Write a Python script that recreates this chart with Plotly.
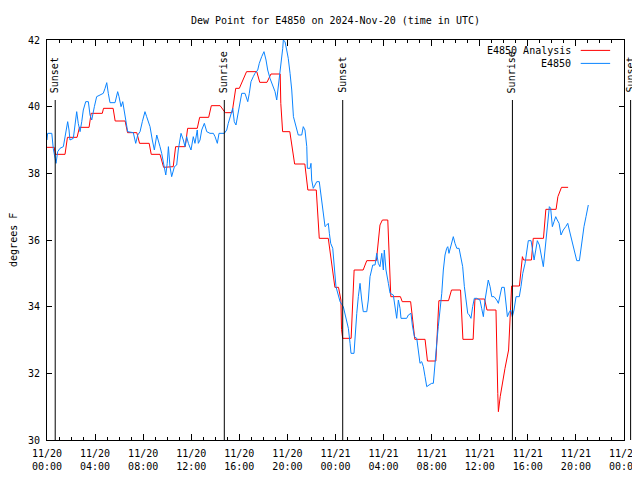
import pandas as pd
import plotly.graph_objects as go

start = pd.Timestamp("2024-11-20 00:00")
end = pd.Timestamp("2024-11-22 00:00")

# Analysis series (hours since 2024-11-20 00:00 UTC, deg F)
red_hours = [0, 0.6, 0.7, 1.5, 1.7, 2.5, 2.7, 3.5, 3.67, 4.6, 4.7, 5.5, 5.67, 6.5, 6.7, 7.47, 7.7, 8.5,
             8.67, 9.4, 9.7, 10.5, 10.7, 11.5, 11.7, 12.5, 12.7, 13.45, 13.67, 14.4, 14.83, 15.4, 15.7,
             16.0, 16.6, 17.45, 17.7, 18.3, 18.63, 19.4, 19.45, 19.6, 20.2, 20.6, 21.45, 21.7, 22.4,
             22.65, 23.4, 23.95, 24.25, 24.45, 24.5, 24.6, 25.3, 25.55, 26.3, 26.6, 27.4, 27.7, 27.9,
             28.35, 28.6, 29.4, 29.55, 30.25, 30.6, 31.45, 31.65, 32.35, 32.6, 33.4, 33.65, 34.4, 34.6,
             35.45, 35.6, 36.4, 36.6, 37.35, 37.5, 37.55, 37.7, 37.9, 38.1, 38.4, 38.5, 38.6, 38.65,
             39.3, 39.55, 39.65, 40.3, 40.45, 41.3, 41.5, 42.35, 42.5, 42.8, 43.35]
red_vals = [38.78, 38.78, 38.57, 38.57, 39.08, 39.08, 39.38, 39.38, 39.8, 39.8, 39.95, 39.95, 39.57,
            39.57, 39.22, 39.22, 38.9, 38.9, 38.57, 38.57, 38.18, 38.2, 38.8, 38.8, 39.35, 39.35, 39.68,
            39.68, 40.03, 40.03, 39.82, 39.82, 40.55, 40.55, 41.05, 41.05, 40.73, 40.73, 40.98, 40.98,
            40.1, 39.25, 39.25, 38.28, 38.28, 37.5, 37.5, 36.05, 36.05, 34.58, 34.58, 34.2, 33.32,
            33.05, 33.05, 35.1, 35.1, 35.38, 35.38, 36.45, 36.6, 36.6, 34.3, 34.3, 34.15, 34.15,
            33.02, 33.02, 32.37, 32.37, 34.18, 34.18, 34.5, 34.5, 33.02, 33.02, 34.23, 34.23, 33.9,
            33.9, 31.4, 30.85, 31.3, 31.75, 32.15, 32.7, 33.55, 34.3, 34.62, 34.62, 35.5, 35.4, 35.4,
            36.05, 36.05, 36.92, 36.92, 37.3, 37.58, 37.58]

# Station series
blue_hours = [0, 0.05, 0.4, 0.52, 0.67, 0.75, 0.89, 1.08, 1.36, 1.5, 1.72, 1.83, 1.91, 2.19, 2.33, 2.47,
              2.6, 2.75, 2.89, 3.02, 3.22, 3.44, 3.58, 3.72, 3.94, 4.13, 4.41, 4.68, 4.83, 4.97, 5.1,
              5.24, 5.66, 5.88, 5.99, 6.16, 6.3, 6.43, 6.63, 6.71, 7.18, 7.38, 7.55, 7.74, 7.93, 8.15,
              8.29, 8.57, 8.76, 8.93, 9.13, 9.26, 9.4, 9.54, 9.68, 9.88, 10.0, 10.1, 10.23, 10.37, 10.6,
              10.79, 10.92, 11.15, 11.34, 11.48, 11.62, 11.76, 11.98, 12.17, 12.31, 12.5, 12.59, 12.73,
              12.87, 13.09, 13.29, 13.56, 13.84, 13.98, 14.17, 14.31, 14.75, 14.95, 15.08, 15.31, 15.45,
              15.58, 15.72, 15.87, 16.06, 16.2, 16.47, 16.7, 16.83, 16.97, 17.16, 17.3, 17.53, 17.66,
              17.86, 18.05, 18.22, 18.36, 18.55, 18.83, 18.97, 19.11, 19.24, 19.38, 19.53, 19.61, 19.66,
              19.8, 19.94, 20.07, 20.22, 20.36, 20.5, 20.63, 20.9, 21.19, 21.32, 21.46, 21.61, 21.66,
              21.88, 21.96, 22.02, 22.15, 22.3, 22.44, 22.65, 22.77, 22.94, 23.13, 23.27, 23.4, 23.49,
              23.6, 23.77, 23.9, 24.04, 24.23, 24.38, 24.65, 24.79, 24.93, 25.07, 25.21, 25.29, 25.54,
              25.62, 25.77, 25.9, 26.04, 26.18, 26.31, 26.6, 26.73, 26.87, 27.1, 27.29, 27.43, 27.56,
              27.7, 27.85, 27.98, 28.06, 28.2, 28.4, 28.54, 28.81, 28.95, 29.09, 29.23, 29.37, 29.45,
              29.92, 30.06, 30.28, 30.39, 30.56, 30.76, 30.89, 31.03, 31.17, 31.31, 31.45, 31.59, 31.78,
              32.0, 32.14, 32.28, 32.42, 32.55, 32.7, 32.84, 32.97, 33.11, 33.25, 33.34, 33.44, 33.59,
              33.72, 33.8, 33.94, 34.09, 34.28, 34.44, 34.58, 34.72, 34.86, 35.0, 35.13, 35.27, 35.41,
              35.55, 35.75, 36.02, 36.16, 36.3, 36.44, 36.58, 36.71, 36.86, 37.0, 37.19, 37.41, 37.55,
              37.69, 37.83, 38.04, 38.19, 38.3, 38.47, 38.58, 38.71, 38.85, 39.02, 39.29, 39.43, 39.58,
              39.77, 39.91, 40.04, 40.27, 40.37, 40.52, 40.66, 40.79, 40.96, 41.1, 41.24, 41.29, 41.43,
              41.51, 41.66, 41.79, 41.9, 42.04, 42.18, 42.32, 42.45, 42.6, 42.76, 42.95, 43.15, 43.32,
              43.45, 43.59, 43.79, 43.93, 44.07, 44.29, 44.4, 44.54, 44.67, 44.84, 45.03]
blue_vals = [39.0, 39.2, 39.2, 38.75, 38.45, 38.3, 38.65, 38.75, 38.8, 39.1, 39.55, 39.3, 39.0, 39.05,
             39.45, 39.85, 39.5, 39.25, 39.55, 39.9, 40.15, 40.15, 39.75, 39.6, 40.0, 40.3, 40.35, 40.4,
             40.55, 40.72, 40.4, 40.12, 40.12, 40.45, 40.3, 40.0, 40.15, 39.9, 39.5, 39.25, 39.22, 38.9,
             39.15, 39.25, 39.55, 39.85, 39.7, 39.4, 39.0, 38.7, 39.15, 39.0, 38.8, 38.6, 38.3, 37.95,
             38.3, 38.8, 38.2, 37.9, 38.2, 38.25, 38.7, 39.2, 39.0, 38.8, 39.1, 38.9, 38.7, 39.1, 38.9,
             39.3, 38.9, 39.0, 39.3, 39.5, 39.25, 39.2, 39.2, 39.1, 38.9, 39.2, 39.2, 39.3, 39.5, 39.8,
             39.95, 39.55, 39.45, 39.75, 40.15, 40.4, 40.4, 40.15, 40.4, 40.75, 40.9, 41.0, 41.1, 41.3,
             41.5, 41.65, 41.4, 41.1, 40.85, 40.6, 40.45, 40.2, 40.6, 40.9, 41.4, 41.75, 42.0, 41.95,
             41.7, 41.45, 41.0, 40.5, 39.7, 39.5, 39.15, 39.15, 39.4, 39.3, 38.8, 38.15, 38.15, 38.3,
             37.8, 37.55, 37.65, 37.75, 37.75, 37.4, 36.8, 36.4, 36.45, 36.5, 36.2, 35.9, 35.75, 35.3,
             34.6, 34.35, 34.15, 34.0, 33.8, 33.6, 33.35, 32.9, 32.6, 32.6, 33.1, 33.8, 34.3, 34.7, 34.2,
             33.85, 33.85, 34.2, 34.9, 35.25, 35.25, 35.6, 35.3, 35.2, 35.6, 35.1, 35.7, 35.1, 34.7,
             34.4, 34.35, 34.0, 33.65, 34.2, 33.95, 33.65, 33.65, 33.75, 33.8, 33.45, 33.1, 33.05, 32.7,
             32.3, 32.35, 32.2, 31.9, 31.6, 31.65, 31.7, 31.7, 32.2, 32.9, 33.4, 33.9, 34.4, 35.1, 35.55,
             35.75, 35.8, 35.6, 35.85, 36.05, 36.1, 35.9, 35.75, 35.75, 35.5, 35.2, 34.6, 34.2, 33.8,
             33.75, 33.65, 34.0, 34.25, 34.25, 34.2, 33.95, 33.7, 34.2, 34.6, 34.8, 34.6, 34.3, 34.3,
             34.2, 34.1, 34.35, 34.58, 34.58, 34.15, 33.7, 33.85, 33.9, 33.7, 33.9, 34.3, 34.3, 34.6,
             35.0, 35.3, 35.7, 35.98, 35.98, 35.75, 35.4, 35.7, 35.98, 35.85, 35.6, 35.35, 35.2, 35.7,
             36.0, 36.6, 37.0, 36.95, 36.4, 36.55, 36.7, 36.6, 36.5, 36.15, 36.3, 36.4, 36.5, 36.3,
             36.1, 35.85, 35.65, 35.38, 35.38, 35.7, 36.1, 36.4, 36.7, 37.05]

sun_labels = ["Sunset", "Sunrise", "Sunset", "Sunrise", "Sunset"]
sun_times = ["2024-11-20 00:41", "2024-11-20 14:45", "2024-11-21 00:36",
             "2024-11-21 14:43", "2024-11-22 00:33"]

series_names = ["E4850 Analysis", "E4850"]
series_colors = ["#ff0000", "#0a84ff"]

y_min, y_max = 30, 42
sun_line_top = 40.2

def to_time(hours):
    return [start + pd.Timedelta(hours=h) for h in hours]

FONT = "DejaVu Sans Mono"
fig = go.Figure()
fig.add_trace(go.Scatter(x=to_time(red_hours), y=red_vals, mode="lines", name=series_names[0],
                         line=dict(color=series_colors[0], width=1)))
fig.add_trace(go.Scatter(x=to_time(blue_hours), y=blue_vals, mode="lines", name=series_names[1],
                         line=dict(color=series_colors[1], width=1)))

span = (end - start).total_seconds()
ytop_frac = (sun_line_top - y_min) / (y_max - y_min)
shapes = []
annotations = []
for lab, t in zip(sun_labels, sun_times):
    xf = (pd.Timestamp(t) - start).total_seconds() / span
    shapes.append(dict(type="line", xref="paper", yref="paper", x0=xf, x1=xf, y0=0, y1=ytop_frac,
                       line=dict(color="black", width=1)))
    annotations.append(dict(text=lab, xref="paper", yref="paper", x=xf, y=ytop_frac + 0.0125,
                            xanchor="center", yanchor="bottom", textangle=-90, showarrow=False,
                            font=dict(family=FONT, size=10, color="black")))

# legend drawn gnuplot-style (text left, sample right)
for i, (nm, col) in enumerate(zip(series_names, series_colors)):
    yy = 0.974 - i * 0.0325
    annotations.append(dict(text=nm, xref="paper", yref="paper", x=0.912, y=yy, xanchor="right",
                            yanchor="middle", showarrow=False,
                            font=dict(family=FONT, size=10, color="black")))
    shapes.append(dict(type="line", xref="paper", yref="paper", x0=0.925, x1=0.976, y0=yy, y1=yy,
                       line=dict(color=col, width=1)))

annotations.append(dict(text="degrees F", xref="paper", yref="paper", x=-0.059, y=0.5,
                        xanchor="center", yanchor="middle", textangle=-90, showarrow=False,
                        font=dict(family=FONT, size=10, color="black")))

# the page has an 8px body margin; the figure is sized so it fits the window without overflow
fig.update_layout(
    width=632, height=464,
    margin=dict(l=39, r=16, t=32, b=32, autoexpand=False),
    paper_bgcolor="white", plot_bgcolor="white",
    showlegend=False,
    title=dict(text="Dew Point for E4850 on 2024-Nov-20 (time in UTC)", x=0.5, xref="paper",
               y=1 - 12 / 464, yanchor="middle",
               font=dict(family=FONT, size=10, color="black")),
    font=dict(family=FONT, size=10, color="black"),
    shapes=shapes, annotations=annotations,
)
fig.update_xaxes(type="date", range=[start, end], dtick=4 * 3600000, tick0=start,
                 tickformat="%m/%d<br>%H:%M", ticks="inside", ticklen=6, tickcolor="black",
                 ticklabelstandoff=4, automargin=False,
                 showline=True, linecolor="black", linewidth=1, mirror="ticks", showgrid=False,
                 zeroline=False, minor=dict(dtick=3600000, ticks="inside", ticklen=3,
                                            tickcolor="black", showgrid=False),
                 tickfont=dict(family=FONT, size=10, color="black"))
fig.update_yaxes(range=[y_min, y_max], dtick=2, ticks="inside", ticklen=5, tickcolor="black",
                 ticklabelstandoff=4, automargin=False,
                 showline=True, linecolor="black", linewidth=1, mirror="ticks", showgrid=False,
                 zeroline=False, tickfont=dict(family=FONT, size=10, color="black"))

fig.write_html("out.html")
